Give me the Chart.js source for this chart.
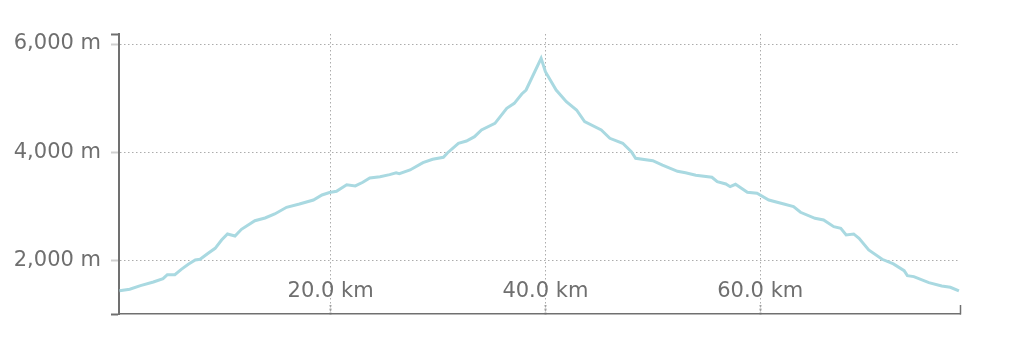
<!DOCTYPE html>
<html>
<head>
<meta charset="utf-8">
<title>Elevation profile</title>
<script src="https://cdn.jsdelivr.net/npm/chart.js@4/dist/chart.umd.min.js"></script>
<style>
  html, body { margin: 0; padding: 0; background: #fff; }
  #wrap { width: 1026px; height: 346px; }
</style>
</head>
<body>
<div id="wrap"><canvas id="profile"></canvas></div>
<script>
// distance along the route (km) and elevation (m)
var distanceKm = [
  0.35, 1.3, 2.3, 3.5, 4.4, 4.8, 5.5, 6.1, 6.75, 7.4, 7.85, 8.6, 9.25, 9.85,
  10.4, 11.1, 11.7, 12.95, 13.9, 14.8, 15.9, 17.1, 18.4, 19.2, 19.9, 20.55,
  21.5, 22.3, 23.0, 23.65, 24.6, 25.5, 26.1, 26.4, 27.4, 28.6, 29.5, 30.5,
  30.9, 31.9, 32.65, 33.4, 34.05, 35.3, 36.4, 37.1, 37.8, 38.2, 39.6, 40.0,
  41.0, 41.95, 42.9, 43.65, 45.2, 46.0, 47.2, 48.0, 48.4, 50.0, 50.9, 52.3,
  53.05, 54.0, 55.5, 56.0, 56.8, 57.2, 57.7, 58.8, 59.7, 60.8, 62.2, 63.1,
  63.75, 65.1, 65.9, 66.85, 67.5, 68.0, 68.7, 69.2, 70.1, 71.35, 72.4, 73.4,
  73.7, 74.3, 75.7, 76.9, 77.7, 78.5
];
var elevationM = [
  1446, 1472, 1538, 1606, 1668, 1742, 1742, 1840, 1933, 2013, 2025, 2136, 2228, 2382,
  2493, 2456, 2579, 2738, 2788, 2862, 2985, 3046, 3120, 3213, 3258, 3280,
  3400, 3379, 3447, 3526, 3551, 3588, 3624, 3606, 3674, 3809, 3871, 3908,
  3993, 4167, 4209, 4289, 4412, 4536, 4813, 4905, 5077, 5151, 5736, 5489,
  5151, 4935, 4782, 4566, 4412, 4259, 4167, 4012, 3890, 3846, 3766, 3650,
  3624, 3576, 3539, 3458, 3416, 3366, 3410, 3262, 3244, 3120, 3046, 2997,
  2893, 2782, 2751, 2627, 2598, 2474, 2493, 2413, 2197, 2025, 1939, 1815,
  1723, 1705, 1594, 1533, 1508, 1440
];
var distanceTicks = [20, 40, 60];
var elevationTicks = [2000, 4000, 6000];

var xMin = 0.3, xMax = 78.6;
var yMin = 1015, yMax = 6185;

var axisGray = '#707070';
var labelGray = '#6f6f6f';
var gridGray = '#acacac';

Chart.defaults.font.family = '"DejaVu Sans", sans-serif';
Chart.defaults.font.size = 21;
Chart.defaults.color = labelGray;

var points = distanceKm.map(function (d, i) {
  return { x: d, y: elevationM[i] };
});

function isEnd(ctx, min, max) {
  var v = ctx.tick ? ctx.tick.value : null;
  return v === min || v === max;
}

var ctx = document.getElementById('profile').getContext('2d');

var profileChart = new Chart(ctx, {
  type: 'line',
  data: {
    datasets: [{
      label: 'Elevation',
      data: points,
      borderColor: '#a9d9e1',
      borderWidth: 3,
      pointRadius: 0,
      tension: 0,
      fill: false
    }]
  },
  options: {
    responsive: true,
    maintainAspectRatio: false,
    animation: false,
    layout: {
      padding: { left: 0, top: 34, right: 66, bottom: 0 }
    },
    plugins: {
      legend: { display: false },
      tooltip: { enabled: false }
    },
    scales: {
      x: {
        type: 'linear',
        min: xMin,
        max: xMax,
        afterBuildTicks: function (scale) {
          var t = [{ value: xMin }];
          distanceTicks.forEach(function (v) { t.push({ value: v }); });
          t.push({ value: xMax });
          scale.ticks = t;
        },
        afterFit: function (scale) {
          scale.height = 32;
        },
        ticks: {
          // mirrored so the labels sit inside the plot, above the axis line
          mirror: true,
          padding: 10,
          maxRotation: 0,
          autoSkip: false,
          color: labelGray,
          callback: function (value) {
            if (distanceTicks.indexOf(value) < 0) {
              return '';
            }
            return value.toFixed(1) + ' km';
          }
        },
        grid: {
          color: function (c) {
            return isEnd(c, xMin, xMax) ? 'rgba(0,0,0,0)' : gridGray;
          },
          lineWidth: 1,
          tickLength: -9,
          tickWidth: function (c) {
            return isEnd(c, xMin, xMax) ? 1.5 : 2;
          },
          tickColor: function (c) {
            if (c.tick && c.tick.value === xMin) {
              return 'rgba(0,0,0,0)';
            }
            return c.tick && c.tick.value === xMax ? axisGray : '#a0a0a0';
          },
          tickBorderDash: function (c) {
            return isEnd(c, xMin, xMax) ? [] : [2, 2];
          }
        },
        border: {
          display: true,
          color: axisGray,
          width: 1.5,
          dash: [1.5, 2.5]
        }
      },
      y: {
        type: 'linear',
        min: yMin,
        max: yMax,
        afterBuildTicks: function (scale) {
          var t = [{ value: yMin }];
          elevationTicks.forEach(function (v) { t.push({ value: v }); });
          t.push({ value: yMax });
          scale.ticks = t;
        },
        afterFit: function (scale) {
          scale.width = 119;
        },
        ticks: {
          padding: 10,
          color: labelGray,
          callback: function (value) {
            if (elevationTicks.indexOf(value) < 0) {
              return '';
            }
            return value.toLocaleString('en-US') + ' m';
          }
        },
        grid: {
          color: function (c) {
            return isEnd(c, yMin, yMax) ? 'rgba(0,0,0,0)' : gridGray;
          },
          lineWidth: 1,
          tickLength: 8,
          tickWidth: 2,
          tickColor: function (c) {
            return isEnd(c, yMin, yMax) ? axisGray : '#d0d0d0';
          }
        },
        border: {
          display: true,
          color: axisGray,
          width: 2,
          dash: [1.5, 2.5]
        }
      }
    }
  }
});
</script>
</body>
</html>
